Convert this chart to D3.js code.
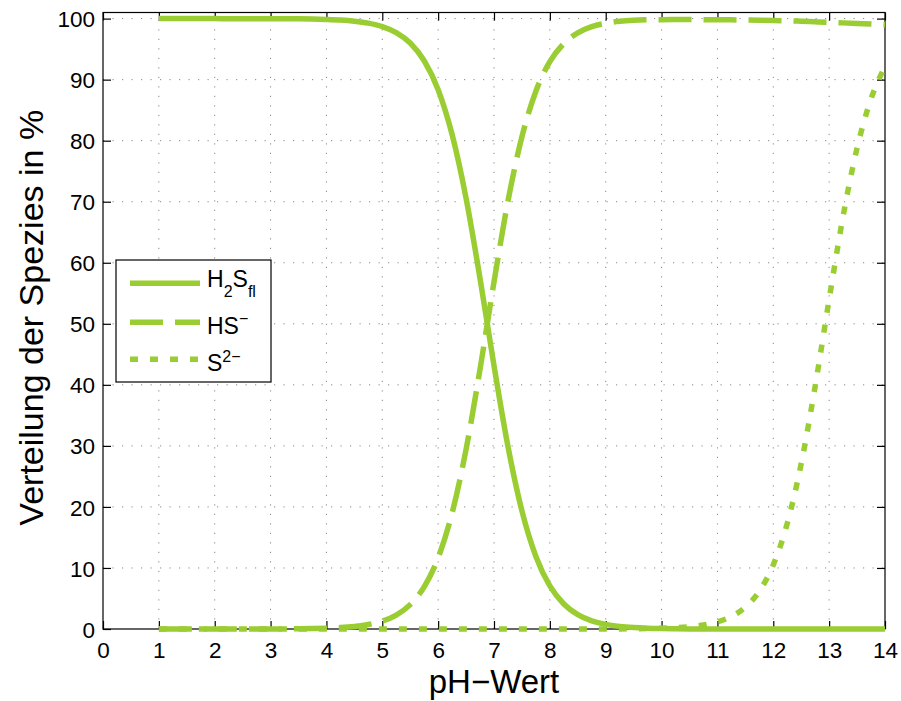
<!DOCTYPE html>
<html><head><meta charset="utf-8">
<script src="https://cdn.jsdelivr.net/npm/d3@7"></script>
<style>body{margin:0;background:#fff}svg{display:block}</style>
</head><body>
<svg id="c" width="901" height="701"></svg>
<script>
const pH = [1,1.25,1.5,1.75,2,2.25,2.5,2.75,3,3.25,3.5,3.75,4,4.25,4.5,4.75,5,5.25,5.5,5.75,6,6.25,6.5,6.75,7,7.25,7.5,7.75,8,8.25,8.5,8.75,9,9.25,9.5,9.75,10,10.25,10.5,10.75,11,11.25,11.5,11.75,12,12.25,12.5,12.75,13,13.25,13.5,13.75,14];
const h2s = [100,100,100,100,100,99.99,99.99,99.99,99.98,99.98,99.96,99.93,99.87,99.77,99.58,99.26,98.70,97.71,96.00,93.10,88.36,81.01,70.58,57.43,43.14,29.90,19.35,11.89,7.05,4.09,2.34,1.33,0.75,0.43,0.24,0.13,0.07,0.04,0.02,0.01,0.01,0,0,0,0,0,0,0,0,0,0,0,0];
const hs = [0,0,0,0,0,0.01,0.01,0.01,0.02,0.02,0.04,0.07,0.13,0.23,0.42,0.74,1.30,2.29,4.00,6.90,11.64,18.99,29.42,42.57,56.86,70.10,80.65,88.11,92.95,95.91,97.66,98.67,99.24,99.55,99.72,99.80,99.83,99.84,99.84,99.83,99.82,99.80,99.77,99.74,99.70,99.64,99.57,99.48,99.40,99.30,99.20,99.10,99.00];
const s2 = [0,0,0,0,0,0,0,0,0,0,0,0,0,0,0,0,0,0,0,0,0,0,0,0,0,0,0,0,0,0,0,0,0.01,0.02,0.04,0.07,0.12,0.21,0.37,0.66,1.16,2.05,3.58,6.20,10.51,17.28,27.10,39.78,54.00,67.63,78.79,86.85,92.16];
const xTicks = [0,1,2,3,4,5,6,7,8,9,10,11,12,13,14];
const yTicks = [0,10,20,30,40,50,60,70,80,90,100];
const xLabel = "pH\u2212Wert";
const yLabel = "Verteilung der Spezies in %";

const color = "#9ACD32";
const font = "'Liberation Sans', Arial, Helvetica, sans-serif";
const L = 103, R = 885, T = 12.5, B = 629;
const svg = d3.select("#c");
const x = d3.scaleLinear().domain([0, 14]).range([L, R]);
const y = d3.scaleLinear().domain([0, 101]).range([B, T]);

// grid
const g = svg.append("g");
g.selectAll("line.gx").data(xTicks.filter(d => d > 0 && d < 14)).enter().append("line")
  .attr("x1", d => x(d)).attr("x2", d => x(d)).attr("y1", B).attr("y2", T)
  .attr("stroke", "#888").attr("stroke-width", 1).attr("stroke-dasharray", "1.2,8.3");
g.selectAll("line.gy").data(yTicks.filter(d => d > 0)).enter().append("line")
  .attr("x1", L).attr("x2", R).attr("y1", d => y(d)).attr("y2", d => y(d))
  .attr("stroke", "#888").attr("stroke-width", 1).attr("stroke-dasharray", "1.2,8.3");

// axes
function style(sel) {
  sel.select(".domain").remove();
  sel.selectAll(".tick line").attr("stroke", "#000").attr("stroke-width", 1.2);
  sel.selectAll("text").attr("font-family", font).attr("font-size", 22.5).attr("fill", "#000");
}
const ax = svg.append("g").attr("transform", `translate(0,${B})`)
  .call(d3.axisBottom(x).tickValues(xTicks).tickSize(-8).tickFormat(d3.format("d")));
style(ax);
ax.selectAll("text").attr("y", 29).attr("dy", 0);
const ay = svg.append("g").attr("transform", `translate(${L},0)`)
  .call(d3.axisLeft(y).tickValues(yTicks).tickSize(-8).tickFormat(d3.format("d")));
style(ay);
ay.selectAll("text").attr("x", -8).attr("dy", "0.36em");
const axt = svg.append("g").attr("transform", `translate(0,${T})`)
  .call(d3.axisTop(x).tickValues(xTicks).tickSize(-8).tickFormat(""));
style(axt);
const ayr = svg.append("g").attr("transform", `translate(${R},0)`)
  .call(d3.axisRight(y).tickValues(yTicks).tickSize(-8).tickFormat(""));
style(ayr);
svg.append("rect").attr("x", L).attr("y", T).attr("width", R - L).attr("height", B - T)
  .attr("fill", "none").attr("stroke", "#000").attr("stroke-width", 1.2);

// lines
const line = d3.line().x(d => x(d[0])).y(d => y(d[1])).curve(d3.curveMonotoneX);
const series = [
  {v: h2s, dash: null},
  {v: hs, dash: "33,12"},
  {v: s2, dash: "8,12"}
];
series.forEach(s => {
  svg.append("path").datum(pH.map((p, i) => [p, s.v[i]]))
    .attr("d", line).attr("fill", "none").attr("stroke", color)
    .attr("stroke-width", 5.5).attr("stroke-dasharray", s.dash);
});

// axis titles
svg.append("text").attr("x", (L + R) / 2).attr("y", 693).attr("text-anchor", "middle")
  .attr("font-family", font).attr("font-size", 33).text(xLabel);
svg.append("text").attr("transform", `translate(43,${(T + B) / 2 - 3}) rotate(-90)`)
  .attr("text-anchor", "middle").attr("font-family", font).attr("font-size", 34).text(yLabel);

// legend
const lg = svg.append("g");
lg.append("rect").attr("x", 116).attr("y", 260).attr("width", 155).attr("height", 122)
  .attr("fill", "#fff").attr("stroke", "#000").attr("stroke-width", 1.2);
const ly = [283.3, 322.3, 359.3];
series.forEach((s, i) => {
  lg.append("line").attr("x1", 130).attr("x2", 200).attr("y1", ly[i]).attr("y2", ly[i])
    .attr("stroke", color).attr("stroke-width", 5.5).attr("stroke-dasharray", s.dash);
});
const t1 = lg.append("text").attr("x", 207).attr("y", 286.5).attr("font-family", font).attr("font-size", 23);
t1.append("tspan").text("H");
t1.append("tspan").attr("font-size", 16).attr("dy", 10).text("2");
t1.append("tspan").attr("dy", -10).text("S");
t1.append("tspan").attr("font-size", 16).attr("dy", 10).text("fl");
const t2 = lg.append("text").attr("x", 207).attr("y", 334).attr("font-family", font).attr("font-size", 23);
t2.append("tspan").text("HS");
t2.append("tspan").attr("font-size", 16).attr("dy", -10).text("\u2212");
const t3 = lg.append("text").attr("x", 207).attr("y", 371).attr("font-family", font).attr("font-size", 23);
t3.append("tspan").text("S");
t3.append("tspan").attr("font-size", 16).attr("dy", -9.5).text("2\u2212");
</script>
</body></html>
